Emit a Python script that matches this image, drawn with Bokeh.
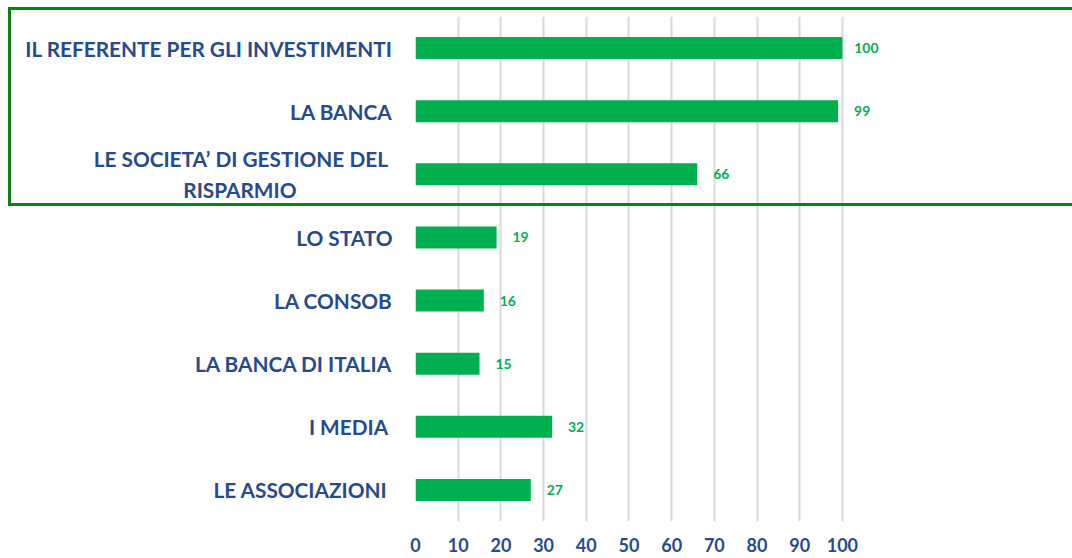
from bokeh.plotting import figure
from bokeh.models import Range1d, FactorRange, FixedTicker, InlineStyleSheet
from bokeh.core.properties import value
from bokeh.embed import file_html
from bokeh.resources import INLINE

# ---- data ----
NB = "\u00A0"
categories = [
    "IL REFERENTE PER GLI INVESTIMENTI",
    "LA BANCA",
    "LE SOCIETA’ DI GESTIONE DEL" + NB + "\n" + "RISPARMIO" + NB * 19,
    "LO STATO",
    "LA CONSOB",
    "LA BANCA DI ITALIA",
    "I MEDIA" + NB,
    "LE ASSOCIAZIONI" + NB,
]
values = [100, 99, 66, 19, 16, 15, 32, 27]
x_ticks = [0, 10, 20, 30, 40, 50, 60, 70, 80, 90, 100]

BAR = "#00B050"
TXT = "#264A8F"
GRID = "#D9D9D9"
BOX = "#0E7F12"
FONT = "Lato"

factors = list(reversed(categories))

# green frame that highlights the first three categories (page decoration)
box_css = InlineStyleSheet(css=f"""
:host::after {{
  content: "";
  position: absolute;
  left: 8px;
  top: 7px;
  width: 1064px;
  height: 199px;
  box-sizing: border-box;
  border: 3px solid {BOX};
  border-right: none;
  pointer-events: none;
}}
""")

p = figure(
    width=1072, height=558,
    y_range=FactorRange(factors=factors, range_padding=0),
    x_range=Range1d(0, 153.9),
    output_backend="svg", toolbar_location=None,
    min_border_left=415, min_border_right=0, min_border_top=16, min_border_bottom=37,
)
p.stylesheets = [box_css]
p.outline_line_color = None
p.background_fill_color = "white"
p.border_fill_color = "white"

p.hbar(y=categories, right=values, left=0, height=0.35, color=BAR, line_color=None)

labels = [str(v) for v in values]
p.text(x=values, y=categories, text=labels, x_offset=24,
       text_align="center", text_baseline="middle",
       text_font=value(FONT), text_font_style="bold", text_font_size="14px",
       text_color=BAR)

# x axis
p.xaxis.ticker = FixedTicker(ticks=x_ticks)
p.xaxis.axis_line_color = None
p.xaxis.major_tick_line_color = None
p.xaxis.minor_tick_line_color = None
p.xaxis.major_tick_out = 0
p.xaxis.major_tick_in = 0
p.xaxis.major_label_standoff = 16
p.xaxis.major_label_text_font = FONT
p.xaxis.major_label_text_font_style = "bold"
p.xaxis.major_label_text_font_size = "18px"
p.xaxis.major_label_text_color = TXT

# y axis
p.yaxis.axis_line_color = None
p.yaxis.major_tick_line_color = None
p.yaxis.major_tick_out = 0
p.yaxis.major_tick_in = 0
p.yaxis.major_label_standoff = 23
p.yaxis.major_label_text_font = FONT
p.yaxis.major_label_text_font_style = "bold"
p.yaxis.major_label_text_font_size = "20.8px"
p.yaxis.major_label_text_color = TXT
p.yaxis.major_label_text_line_height = 1.25

# grid
p.xgrid.ticker = FixedTicker(ticks=x_ticks)
p.xgrid.grid_line_color = GRID
p.xgrid.grid_line_width = 2
p.ygrid.grid_line_color = None

open("out.html", "w").write(file_html(p, INLINE))
